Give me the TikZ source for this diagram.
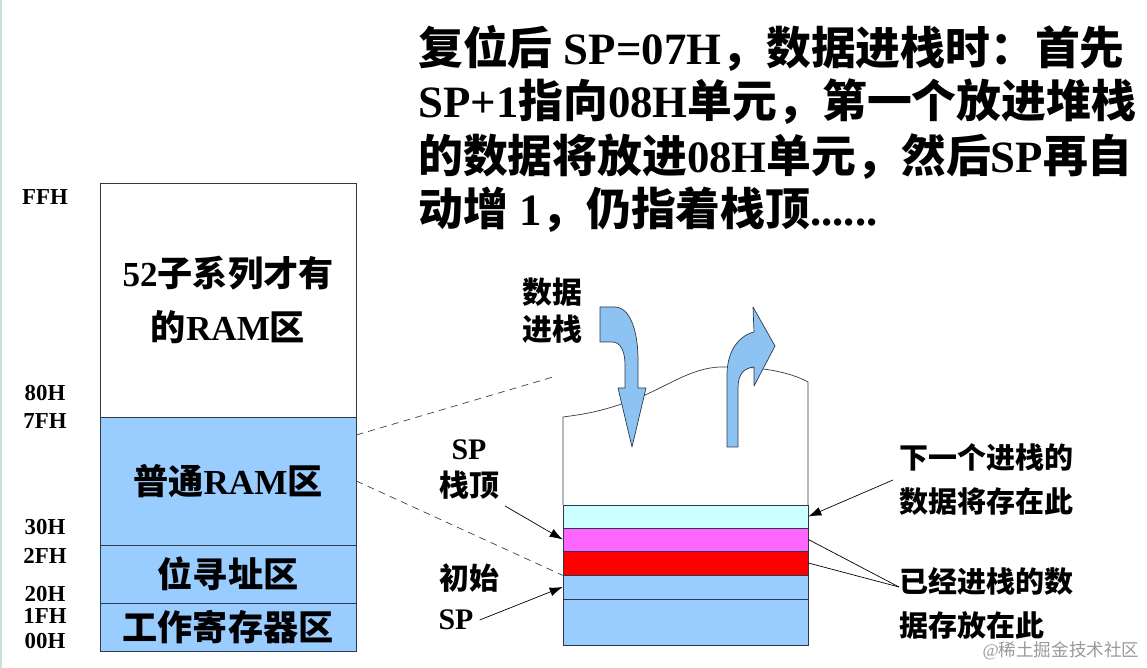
\documentclass[tikz,border=0pt]{standalone}
\usepackage{fontspec}
\setmainfont{Liberation Serif}
\newfontfamily\zh{Noto Sans CJK SC}
\usetikzlibrary{arrows.meta}

\definecolor{ramblue}{HTML}{99CCFF}
\definecolor{arrowblue}{HTML}{8DC3F2}
\definecolor{freecyan}{HTML}{CCFFFF}
\definecolor{topmag}{HTML}{FF66FF}
\definecolor{edge}{HTML}{2F3A48}
\definecolor{strip}{HTML}{C4E4DE}

\begin{document}
\begin{tikzpicture}[x=0.02cm, y=-0.02cm,
  region/.style={draw=edge, minimum width=5.12cm, inner sep=0pt, align=center,
    font=\fontsize{20}{31}\selectfont\bfseries},
  addr/.style={font=\fontsize{13}{13}\selectfont\bfseries},
  band/.style={draw=edge, minimum width=4.9cm, inner sep=0pt},
  lbl/.style={align=center, font=\fontsize{17}{21}\selectfont\bfseries},
  note/.style={anchor=west, align=left, font=\fontsize{16.5}{25}\selectfont\bfseries},
  para/.style={anchor=west, inner sep=0pt, font=\fontsize{25.5}{30}\selectfont\bfseries},
  arr/.style={-{Latex[length=2.6mm,width=1.8mm]}},
  dashline/.style={dash pattern=on 4pt off 3pt, black!75},
  bigarrow/.style={draw=edge, fill=arrowblue, line join=round}]
  \useasboundingbox (0,0) rectangle (1147,668);
  \fill[strip] (0,0) rectangle (2,668);

  % explanation on top
  \node[para] (p1) at (418,48) {{\zh 复位后} SP=07H{\zh ，数据进栈时：首先}};
  \node[para] (p2) at (418,102) {SP+1{\zh 指向}08H{\zh 单元，第一个放进堆栈}};
  \node[para] (p3) at (418,157) {{\zh 的数据将放进}08H{\zh 单元，然后}SP{\zh 再自}};
  \node[para] (p4) at (418,210) {{\zh 动增} 1{\zh ，仍指着栈顶}......};

  % internal RAM map
  \node[region, fill=white, minimum height=4.68cm] (ext) at (228,300)
    {52{\zh 子系列才有}\\{\zh 的}RAM{\zh 区}};
  \node[region, fill=ramblue, minimum height=2.56cm] (gen) at (228,481) {{\zh 普通}RAM{\zh 区}};
  \node[region, fill=ramblue, minimum height=1.16cm] (bit) at (228,574) {\zh 位寻址区};
  \node[region, fill=ramblue, minimum height=0.96cm] (reg) at (228,627) {\zh 工作寄存器区};
  \foreach \t/\y in {FFH/197, 80H/393, 7FH/421, 30H/527, 2FH/556, 20H/594, 1FH/616, 00H/641}
    \node[addr] (a\t) at (45,\y) {\t};

  % stack
  \draw[edge] (563,505) -- (563,417) .. controls (585,414) and (600,412) .. (633,400)
    .. controls (665,388) and (690,368) .. (720,367)
    .. controls (760,366) and (790,372) .. (808,382) -- (808,505);
  \node[band, fill=freecyan, minimum height=0.46cm] (free) at (685.5,516.5) {};
  \node[band, fill=topmag, minimum height=0.46cm] (top) at (685.5,539.5) {};
  \node[band, fill=red, minimum height=0.48cm] (pushed) at (685.5,563) {};
  \node[band, fill=ramblue, minimum height=0.48cm] (init) at (685.5,587) {};
  \node[band, fill=ramblue, minimum height=0.92cm] (base) at (685.5,622) {};

  \draw[bigarrow] (600,307) -- (616,307) .. controls (632,309) and (638,335) .. (638,360)
    -- (638,388) -- (646,388) -- (632,447) -- (618,388) -- (625,388) -- (625,365)
    .. controls (625,350) and (620,342) .. (612,342) -- (600,342) -- cycle;
  \draw[bigarrow] (727,447) -- (727,375) .. controls (727,352) and (738,336) .. (754,332)
    -- (753,307) -- (775,346) -- (754,386) -- (754,367)
    .. controls (744,368) and (738,374) .. (738,388) -- (738,447) -- cycle;
  \node[lbl] (push) at (552,311) {\zh 数据\\\zh 进栈};

  % zoom lines
  \coordinate (zoomend) at (553,377);
  \draw[dashline] ([yshift=0.92cm]gen.east) -- (zoomend);
  \draw[dashline] (gen.east) -- (pushed.south west);

  % pointers
  \node[lbl] (sptop) at (469,470) {SP\\\zh 栈顶};
  \node[lbl] (spinit) at (469,578) {\zh 初始};
  \node[lbl] (spinit2) at (456,620) {SP};
  \draw[arr] (sptop.south east) -- (top.west);
  \draw[arr] (spinit2.east) -- (init.west);

  \node[note] (nextlbl) at (893,480) {{\zh 下一个进栈的}\\{\zh 数据将存在此}};
  \node[note] (donelbl) at (893,603) {{\zh 已经进栈的数}\\{\zh 据存放在此}};
  \coordinate (fork) at (899,587);
  \draw[arr] (nextlbl.west) -- (free.east);
  \draw (fork) -- (top.east);
  \draw (fork) -- (pushed.east);

  \node[text=black!40, font=\fontsize{10}{10}\selectfont] (mark) at (1061,651) {@{\zh 稀土掘金技术社区}};
\end{tikzpicture}
\end{document}
